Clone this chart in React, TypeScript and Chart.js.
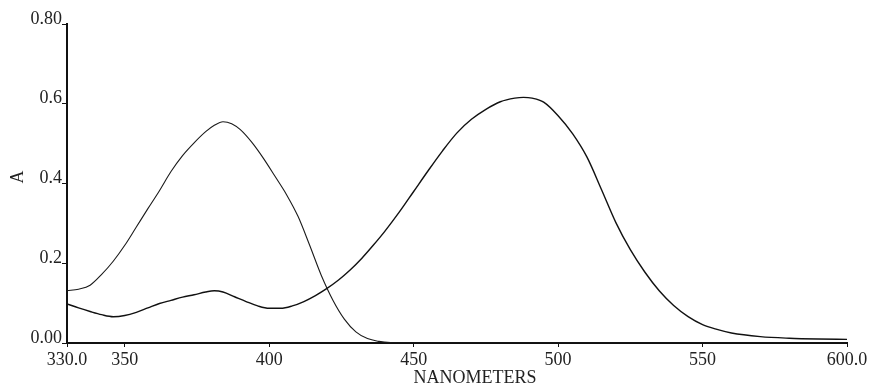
import React, { useEffect, useRef } from "react";
import { Chart, registerables } from "chart.js";

Chart.register(...registerables);

// Band 1 (peak near 385 nm)
const nm1 = [330, 334, 338, 342, 346, 350, 354, 358, 362, 366, 370, 374, 378, 381, 384, 387, 390, 394, 398, 402, 406, 410, 414, 418, 422, 426, 430, 434, 438, 442, 450, 500, 550, 600];
const abs1 = [0.131, 0.135, 0.145, 0.172, 0.205, 0.245, 0.291, 0.337, 0.382, 0.43, 0.47, 0.502, 0.53, 0.546, 0.555, 0.55, 0.535, 0.503, 0.463, 0.418, 0.372, 0.317, 0.245, 0.17, 0.108, 0.06, 0.028, 0.011, 0.004, 0.001, 0.0, 0.0, 0.0, 0.0];

// Band 2 (peak near 488 nm)
const nm2 = [330, 334, 338, 342, 346, 350, 354, 358, 362, 366, 370, 374, 378, 381, 384, 388, 392, 396, 400, 404, 408, 412, 416, 420, 424, 428, 432, 436, 440, 445, 450, 455, 460, 465, 470, 475, 480, 485, 488, 491, 495, 500, 505, 510, 515, 520, 525, 530, 535, 540, 545, 550, 555, 560, 570, 580, 590, 600];
const abs2 = [0.098, 0.088, 0.079, 0.071, 0.066, 0.069, 0.077, 0.088, 0.099, 0.107, 0.115, 0.121, 0.128, 0.131, 0.128, 0.116, 0.104, 0.093, 0.087, 0.087, 0.093, 0.104, 0.119, 0.137, 0.158, 0.183, 0.212, 0.245, 0.28, 0.328, 0.38, 0.432, 0.482, 0.527, 0.561, 0.586, 0.605, 0.614, 0.616, 0.614, 0.604, 0.57, 0.525, 0.466, 0.385, 0.302, 0.234, 0.178, 0.131, 0.094, 0.066, 0.046, 0.034, 0.025, 0.016, 0.012, 0.01, 0.009];

const xTickValues = [330, 350, 400, 450, 500, 550, 600];
const xTickLabels = ["330.0", "350", "400", "450", "500", "550", "600.0"];
const yTickValues = [0, 0.2, 0.4, 0.6, 0.8];
const yTickLabels = ["0.00", "0.2", "0.4", "0.6", "0.80"];

const xTitle = "NANOMETERS";
const yTitle = "A";

const FONT = '"Liberation Serif", "Times New Roman", serif';

export default function App() {
  const ref = useRef<HTMLCanvasElement | null>(null);

  useEffect(() => {
    const canvas = ref.current;
    if (!canvas) return;

    const titlePlugin = {
      id: "axisTitles",
      afterDraw(chart: any) {
        const { ctx, chartArea } = chart;
        ctx.save();
        ctx.fillStyle = "#222";
        ctx.font = `18px ${FONT}`;
        ctx.textAlign = "center";
        ctx.textBaseline = "middle";
        ctx.fillText(xTitle, chartArea.left + chartArea.width * 0.523, 378);
        ctx.translate(18, chartArea.top + chartArea.height * 0.48);
        ctx.rotate(-Math.PI / 2);
        ctx.fillText(yTitle, 0, 0);
        ctx.restore();
      },
    };

    const chart = new Chart(canvas, {
      type: "line",
      data: {
        datasets: [
          {
            data: nm1.map((x, i) => ({ x, y: abs1[i] })),
            borderColor: "#1a1a1a",
            borderWidth: 1.1,
            pointRadius: 0,
            cubicInterpolationMode: "monotone",
            fill: false,
          },
          {
            data: nm2.map((x, i) => ({ x, y: abs2[i] })),
            borderColor: "#111",
            borderWidth: 1.4,
            pointRadius: 0,
            cubicInterpolationMode: "monotone",
            fill: false,
          },
        ],
      },
      options: {
        responsive: false,
        animation: false,
        layout: { padding: { top: 24, right: 27, left: 0, bottom: 0 } },
        plugins: {
          legend: { display: false },
          tooltip: { enabled: false },
        },
        scales: {
          x: {
            type: "linear",
            min: 330,
            max: 600,
            afterBuildTicks: (scale: any) => {
              scale.ticks = xTickValues.map((v) => ({ value: v }));
            },
            afterFit: (scale: any) => {
              scale.height = 43;
            },
            ticks: {
              autoSkip: false,
              maxRotation: 0,
              minRotation: 0,
              padding: 2,
              color: "#222",
              font: { family: FONT, size: 18 },
              callback: (value: any) => {
                const i = xTickValues.indexOf(Number(value));
                return i >= 0 ? xTickLabels[i] : "";
              },
            },
            grid: {
              drawOnChartArea: false,
              drawTicks: true,
              tickLength: 4,
              color: "#111",
              lineWidth: 1,
            },
            border: { display: true, color: "#111", width: 2 },
          },
          y: {
            type: "linear",
            min: 0,
            max: 0.8,
            afterBuildTicks: (scale: any) => {
              scale.ticks = yTickValues.map((v) => ({ value: v }));
            },
            afterFit: (scale: any) => {
              scale.width = 67;
            },
            ticks: {
              autoSkip: false,
              padding: 0,
              labelOffset: -5,
              color: "#222",
              font: { family: FONT, size: 18 },
              callback: (value: any) => {
                const i = yTickValues.findIndex((v) => Math.abs(v - Number(value)) < 1e-9);
                return i >= 0 ? yTickLabels[i] : "";
              },
            },
            grid: {
              drawOnChartArea: false,
              drawTicks: true,
              tickLength: 5,
              color: "#111",
              lineWidth: 1,
            },
            border: { display: true, color: "#111", width: 2 },
          },
        },
      },
      plugins: [titlePlugin],
    } as any);

    return () => chart.destroy();
  }, []);

  return (
    <div style={{ position: "fixed", left: 0, top: 0, width: 874, height: 386, background: "#fff" }}>
      <canvas ref={ref} width={874} height={386} style={{ display: "block", width: 874, height: 386 }} />
    </div>
  );
}
